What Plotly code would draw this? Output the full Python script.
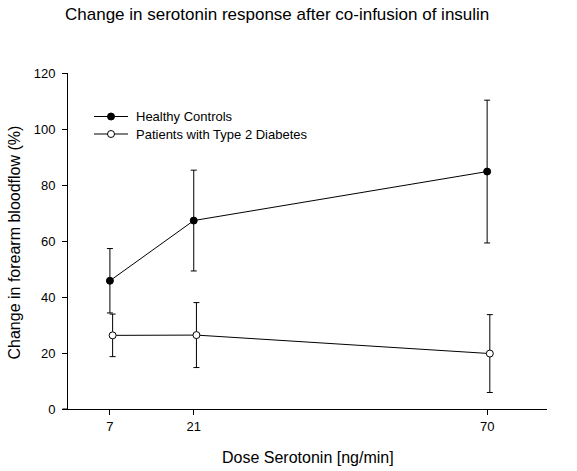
import plotly.graph_objects as go

# ---- data ----
doses = [7, 21, 70]
dose_labels = ["7", "21", "70"]
healthy_mean = [45.8, 67.3, 84.8]
healthy_se = [11.5, 18.0, 25.5]
diabetes_mean = [26.3, 26.4, 19.8]
diabetes_se = [7.6, 11.6, 13.9]
series_names = ["Healthy Controls", "Patients with Type 2 Diabetes"]
title_text = "Change in serotonin response after co-infusion of insulin"
x_title = "Dose Serotonin [ng/min]"
y_title = "Change in forearm bloodflow (%)"

# ---- layout constants ----
W, H = 577, 471
ML, MR, MT, MB = 68, 30, 73, 62
PW, PH = W - ML - MR, H - MT - MB
FONT = "Liberation Sans, Arial, sans-serif"
dodge = 0.45  # small horizontal offset of second series


def px_x(px):
    return (px - ML) / PW


def px_y(py):
    return (H - MB - py) / PH


fig = go.Figure()

fig.add_trace(go.Scatter(
    x=doses, y=healthy_mean, mode="lines+markers", name=series_names[0],
    line=dict(color="black", width=1),
    marker=dict(symbol="circle", size=7, color="black", line=dict(color="black", width=1)),
    error_y=dict(type="data", array=healthy_se, visible=True, color="black", thickness=1, width=3),
    showlegend=False,
))
fig.add_trace(go.Scatter(
    x=[d + dodge for d in doses], y=diabetes_mean, mode="lines+markers", name=series_names[1],
    line=dict(color="black", width=1),
    marker=dict(symbol="circle", size=7, color="white", line=dict(color="black", width=1)),
    error_y=dict(type="data", array=diabetes_se, visible=True, color="black", thickness=1, width=3),
    showlegend=False,
))

shapes = []
annotations = []

# x-axis line extends slightly left of the y-axis
shapes.append(dict(type="line", xref="paper", yref="paper",
                   x0=px_x(62.5), x1=0, y0=0, y1=0,
                   line=dict(color="black", width=1)))

# manual legend
legend_rows = [(116.5, "black"), (134, "white")]
for (py, fill), name in zip(legend_rows, series_names):
    shapes.append(dict(type="line", xref="paper", yref="paper",
                       x0=px_x(94), x1=px_x(128), y0=px_y(py), y1=px_y(py),
                       line=dict(color="black", width=1)))
    shapes.append(dict(type="circle", xref="paper", yref="paper",
                       xsizemode="pixel", ysizemode="pixel",
                       xanchor=px_x(111), yanchor=px_y(py),
                       x0=-3.5, x1=3.5, y0=-3.5, y1=3.5,
                       fillcolor=fill, line=dict(color="black", width=1)))
    annotations.append(dict(xref="paper", yref="paper", x=px_x(134), y=px_y(py),
                            xanchor="left", yanchor="middle", showarrow=False,
                            text=name, font=dict(family=FONT, size=13, color="black")))

# titles
annotations.append(dict(xref="paper", yref="paper", x=px_x(277), y=px_y(15),
                        xanchor="center", yanchor="middle", showarrow=False,
                        text=title_text, font=dict(family=FONT, size=17, color="black")))
annotations.append(dict(xref="paper", yref="paper", x=0.5, y=px_y(457),
                        xanchor="center", yanchor="middle", showarrow=False,
                        text=x_title, font=dict(family=FONT, size=16, color="black")))
annotations.append(dict(xref="paper", yref="paper", x=px_x(14), y=px_y(242.5),
                        xanchor="center", yanchor="middle", showarrow=False, textangle=-90,
                        text=y_title, font=dict(family=FONT, size=16, color="black")))

fig.update_layout(
    width=W, height=H,
    margin=dict(l=ML, r=MR, t=MT, b=MB, pad=0),
    paper_bgcolor="white", plot_bgcolor="white",
    font=dict(family=FONT, size=13, color="black"),
    shapes=shapes, annotations=annotations,
    showlegend=False,
)
fig.update_xaxes(range=[0, 80], tickvals=doses, ticktext=dose_labels,
                 ticks="outside", ticklen=5, tickwidth=1, tickcolor="black",
                 showline=True, linecolor="black", linewidth=1,
                 showgrid=False, zeroline=False, tickfont=dict(size=13, color="black"))
fig.update_yaxes(range=[0, 120], dtick=20, tick0=0,
                 ticks="outside", ticklen=5, tickwidth=1, tickcolor="black",
                 showline=True, linecolor="black", linewidth=1,
                 showgrid=False, zeroline=False, ticklabelstandoff=4,
                 tickfont=dict(size=13, color="black"))

fig.write_html("out.html", config={"displayModeBar": False},
               post_script="document.body.style.margin='0px';")
